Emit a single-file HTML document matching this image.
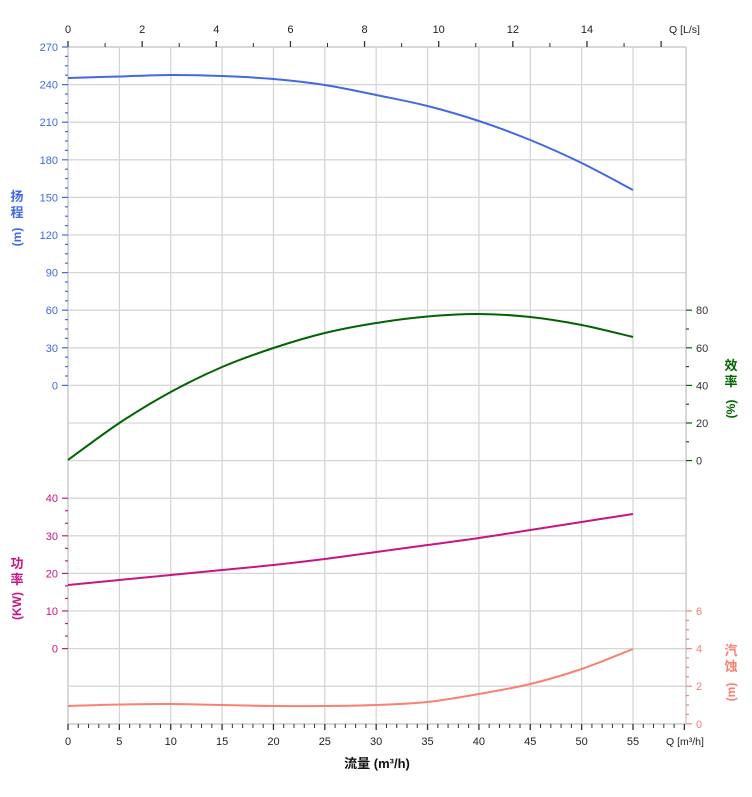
<!DOCTYPE html>
<html><head><meta charset="utf-8"><style>
html,body{margin:0;padding:0;background:#fff;}
svg{display:block;font-family:"Liberation Sans","Noto Sans CJK SC",sans-serif;}
</style></head><body>
<svg id="c" width="752" height="797" xmlns="http://www.w3.org/2000/svg"></svg>
<script>
const s=document.getElementById('c');let h='';
const X0=68,XR=686,YT=47,YB=724,dx=10.2727,gy=37.6;
const X=q=>X0+dx*q;
for(let k=1;k<=11;k++)h+=`<line x1="${X(5*k)}" y1="${YT}" x2="${X(5*k)}" y2="${YB}" stroke="#d6d6d6" stroke-width="1.3"/>`;
for(let k=1;k<18;k++){const y=YT+gy*k;h+=`<line x1="${X0}" y1="${y}" x2="${XR}" y2="${y}" stroke="#d6d6d6" stroke-width="1.3"/>`;}
h+=`<line x1="${X0}" y1="${YT}" x2="${X0}" y2="${YB}" stroke="#ccc" stroke-width="1.5"/>`;
h+=`<line x1="${XR}" y1="${YT}" x2="${XR}" y2="${YB}" stroke="#ccc" stroke-width="1.5"/>`;
h+=`<line x1="${X0}" y1="${YT}" x2="${XR}" y2="${YT}" stroke="#ccc" stroke-width="1.5"/>`;
h+=`<line x1="${X0}" y1="${YB}" x2="${XR}" y2="${YB}" stroke="#ccc" stroke-width="1.5"/>`;
for(let q=0;q<=60;q++){const x=X(q);const maj=q%5==0;h+=`<line x1="${x}" y1="${YB}" x2="${x}" y2="${YB+(maj?6:4)}" stroke="#333" stroke-width="${maj?1.3:1}"/>`;
 if(maj&&q<=55)h+=`<text x="${x}" y="745" font-size="11" text-anchor="middle" fill="#222">${q}</text>`;}
h+=`<text x="666" y="745" font-size="10.5" fill="#222">Q [m³/h]</text>`;
const tx=37.07;
for(let q=0;q<=16;q++){const x=X0+tx*q;if(x>XR)break;const maj=q%2==0;h+=`<line x1="${x}" y1="${YT}" x2="${x}" y2="${YT-(maj?6:4)}" stroke="#333" stroke-width="${maj?1.3:1}"/>`;
 if(maj&&q<=14)h+=`<text x="${x}" y="33" font-size="11" text-anchor="middle" fill="#222">${q}</text>`;}
h+=`<text x="669" y="33" font-size="10.5" fill="#222">Q [L/s]</text>`;
const hc='#4169e1';
for(let i=0;i<=36;i++){const y=YT+i*gy/4;const maj=i%4==0;h+=`<line x1="${X0-(maj?6:3)}" y1="${y}" x2="${X0}" y2="${y}" stroke="${hc}" stroke-width="1.2"/>`;
 if(maj)h+=`<text x="58" y="${y+4}" font-size="11" text-anchor="end" fill="${hc}">${270-30*i/4}</text>`;}
const pc='#c71585';
for(let i=0;i<=12;i++){const y=498.2+i*gy/3;const maj=i%3==0;h+=`<line x1="${X0-(maj?6:3)}" y1="${y}" x2="${X0}" y2="${y}" stroke="${pc}" stroke-width="1.2"/>`;
 if(maj)h+=`<text x="58" y="${y+4}" font-size="11" text-anchor="end" fill="${pc}">${40-10*i/3}</text>`;}
const ec='#006400';
for(let i=0;i<=8;i++){const y=310.2+i*gy/2;const maj=i%2==0;h+=`<line x1="${XR}" y1="${y}" x2="${XR+(maj?6:3)}" y2="${y}" stroke="${ec}" stroke-width="1.2"/>`;
 if(maj)h+=`<text x="696" y="${y+4}" font-size="11" fill="#333">${80-10*i}</text>`;}
const nc='#fa8072';
for(let i=0;i<=12;i++){const y=611+i*gy/4;const maj=i%4==0;h+=`<line x1="${XR}" y1="${y}" x2="${XR+(maj?6:3)}" y2="${y}" stroke="${nc}" stroke-width="1.2"/>`;
 if(maj)h+=`<text x="696" y="${y+4}" font-size="11" fill="${nc}">${6-2*i/4}</text>`;}
function curve(ys,c){const p=ys.map((y,i)=>[X(5*i),y]);let d=`M${p[0][0]},${p[0][1]}`;
 for(let i=0;i<p.length-1;i++){const p0=p[Math.max(0,i-1)],p1=p[i],p2=p[i+1],p3=p[Math.min(p.length-1,i+2)];
 d+=` C${p1[0]+(p2[0]-p0[0])/6},${p1[1]+(p2[1]-p0[1])/6} ${p2[0]-(p3[0]-p1[0])/6},${p2[1]-(p3[1]-p1[1])/6} ${p2[0]},${p2[1]}`;}
 h+=`<path d="${d}" fill="none" stroke="${c}" stroke-width="2"/>`;}
curve([78,76.5,75,76,79,85,95,106,121,140,163,190],hc);
curve([460,423,392,367,348,333,323,316.5,314,317,325,337],ec);
curve([585,580,575,570,565,559,552,545,538,530,522,514],pc);
curve([706,704.5,704,705,706,706,705,702,694,684,669,649],nc);
function vt(x,y,txt,c){h+=`<text x="${x}" y="${y}" font-size="13" font-weight="bold" fill="${c}" text-anchor="middle">${txt}</text>`;}
vt(17,201,'扬',hc);vt(17,217,'程',hc);h+=`<text transform="translate(21,237) rotate(-90)" font-size="12" font-weight="bold" fill="${hc}" text-anchor="middle">(m)</text>`;
vt(17,568,'功',pc);vt(17,584,'率',pc);h+=`<text transform="translate(21,606) rotate(-90)" font-size="12" font-weight="bold" fill="${pc}" text-anchor="middle">(KW)</text>`;
vt(731,370,'效',ec);vt(731,386,'率',ec);h+=`<text transform="translate(735,409) rotate(-90)" font-size="12" font-weight="bold" fill="${ec}" text-anchor="middle">(%)</text>`;
vt(731,655,'汽',nc);vt(731,671,'蚀',nc);h+=`<text transform="translate(735,692) rotate(-90)" font-size="12" font-weight="bold" fill="${nc}" text-anchor="middle">(m)</text>`;
h+=`<text x="377" y="768" font-size="13" font-weight="bold" fill="#111" text-anchor="middle">流量 (m³/h)</text>`;
s.innerHTML=h;
</script>
</body></html>
